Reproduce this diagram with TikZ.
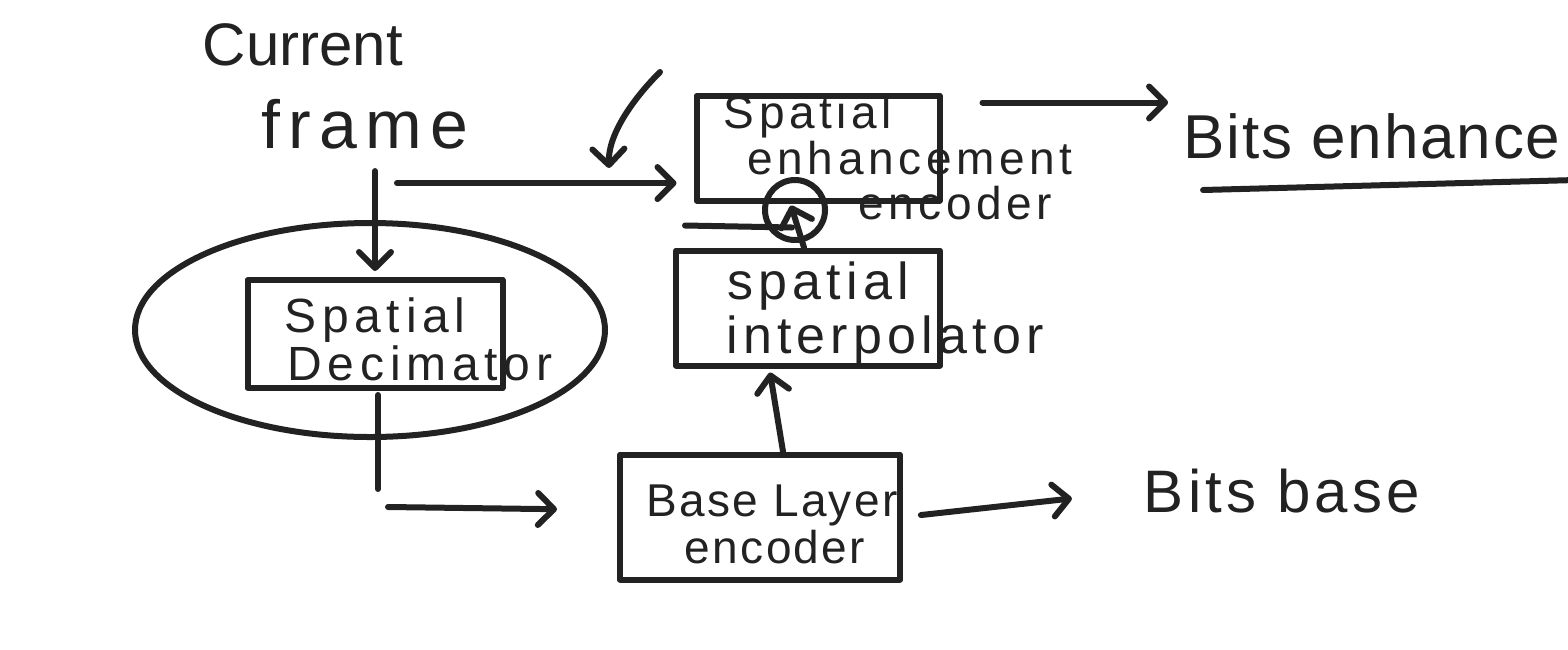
\documentclass[tikz,border=0pt]{standalone}
\usepackage{fontspec}
\setmainfont{Liberation Sans}
\usetikzlibrary{arrows.meta,calc,shapes.geometric}
\definecolor{ink}{HTML}{222222}
\tikzset{
  pen/.style={draw=ink, line width=3pt, line cap=round, line join=round},
  flow/.style={pen, -{Straight Barb[length=8pt,width=16pt,round]}},
  blockbox/.style={pen, rectangle, inner sep=0pt},
  % hand={size in pt}{letter spacing}
  hand/.style n args={2}{text=ink, inner sep=0pt, anchor=base,
    font=\fontsize{#1}{#1}\selectfont\addfontfeatures{LetterSpace=#2}},
}
\begin{document}
\begin{tikzpicture}[x=0.5pt,y=-0.5pt]
  \fill[white] (0,0) rectangle (1568,649);
  \useasboundingbox (0,0) rectangle (1568,649);

  % blocks
  \node[blockbox, minimum width=121.5pt, minimum height=52.5pt] (enh) at (818,148) {};
  \node[blockbox, minimum width=132pt, minimum height=57.5pt] (interp) at (808,308) {};
  \node[blockbox, minimum width=127.5pt, minimum height=54pt] (dec) at (375,334) {};
  \node[blockbox, minimum width=140pt, minimum height=62.5pt] (base) at (760,517) {};
  \node[pen, ellipse, inner sep=0pt, minimum width=235pt, minimum height=107pt] (grp) at (370,330) {};
  \node[pen, circle, inner sep=0pt, minimum size=30pt] (ring) at (795,210) {};
  \draw[pen] ($(interp.north west)+(12,-22)$) -- ($(interp.north west)+(119,-20)$);

  % labels
  \node[hand={30}{0}] (cur) at (303,65) {Current};
  \node[hand={34}{12}] (frm) at (365,148) {frame};
  \node[hand={23}{10}] (enh1) at (808,128) {Spatial};
  \node[hand={23}{10}] (enh2) at (910,174) {enhancement};
  \node[hand={23}{10}] (enh3) at (955,219) {encoder};
  \node[hand={26}{10}] (int1) at (818,299) {spatial};
  \node[hand={26}{10}] (int2) at (885,353) {interpolator};
  \node[hand={24}{12}] (dec1) at (375,332) {Spatial};
  \node[hand={24}{12}] (dec2) at (420,380) {Decimator};
  \node[hand={23}{5}] (bas1) at (772,516) {Base Layer};
  \node[hand={23}{5}] (bas2) at (775,563) {encoder};
  \node[hand={31}{3}] (bitsE) at (1372,158) {Bits enhance};
  \node[hand={30}{7}] (bitsB) at (1282,512) {Bits base};

  % connectors
  \draw[flow] ($(dec.north |- frm.south)+(0,22)$) -- ($(dec.north)+(0,-6)$);
  \coordinate (split) at ($(dec.north |- frm.south)+(22,34)$);
  \draw[flow, shorten >=8.5pt] (split) -- (split -| enh.west);
  \coordinate (noteA) at (660,72);
  \coordinate (noteB) at (609,168);
  \draw[flow] (noteA) .. controls (632,100) and (608,135) .. (noteB);
  \draw[flow] ($(interp.north)+(-4,0)$) -- ($(enh.south)+(-27,2)$);
  \draw[flow] ($(base.north)+(23,0)$) -- ($(interp.south)+(-38,4)$);
  \draw[pen] ($(dec.south)+(3,4)$) -- ++(0,94);
  \draw[flow, shorten >=30pt] ($(dec.south |- base.west)+(13,-10)$) -- ($(base.west)+(0,-7)$);
  \coordinate (eo) at ($(enh.north east)+(40,10)$);
  \draw[flow, shorten >=7.5pt] (eo) -- (eo -| bitsE.west);
  \draw[flow, shorten <=9pt, shorten >=36pt] (base.east) -- (bitsB.west);
  \draw[pen] ($(bitsE.base west)+(20,32)$) -- ($(bitsE.base east)+(15,22)$);
\end{tikzpicture}
\end{document}
